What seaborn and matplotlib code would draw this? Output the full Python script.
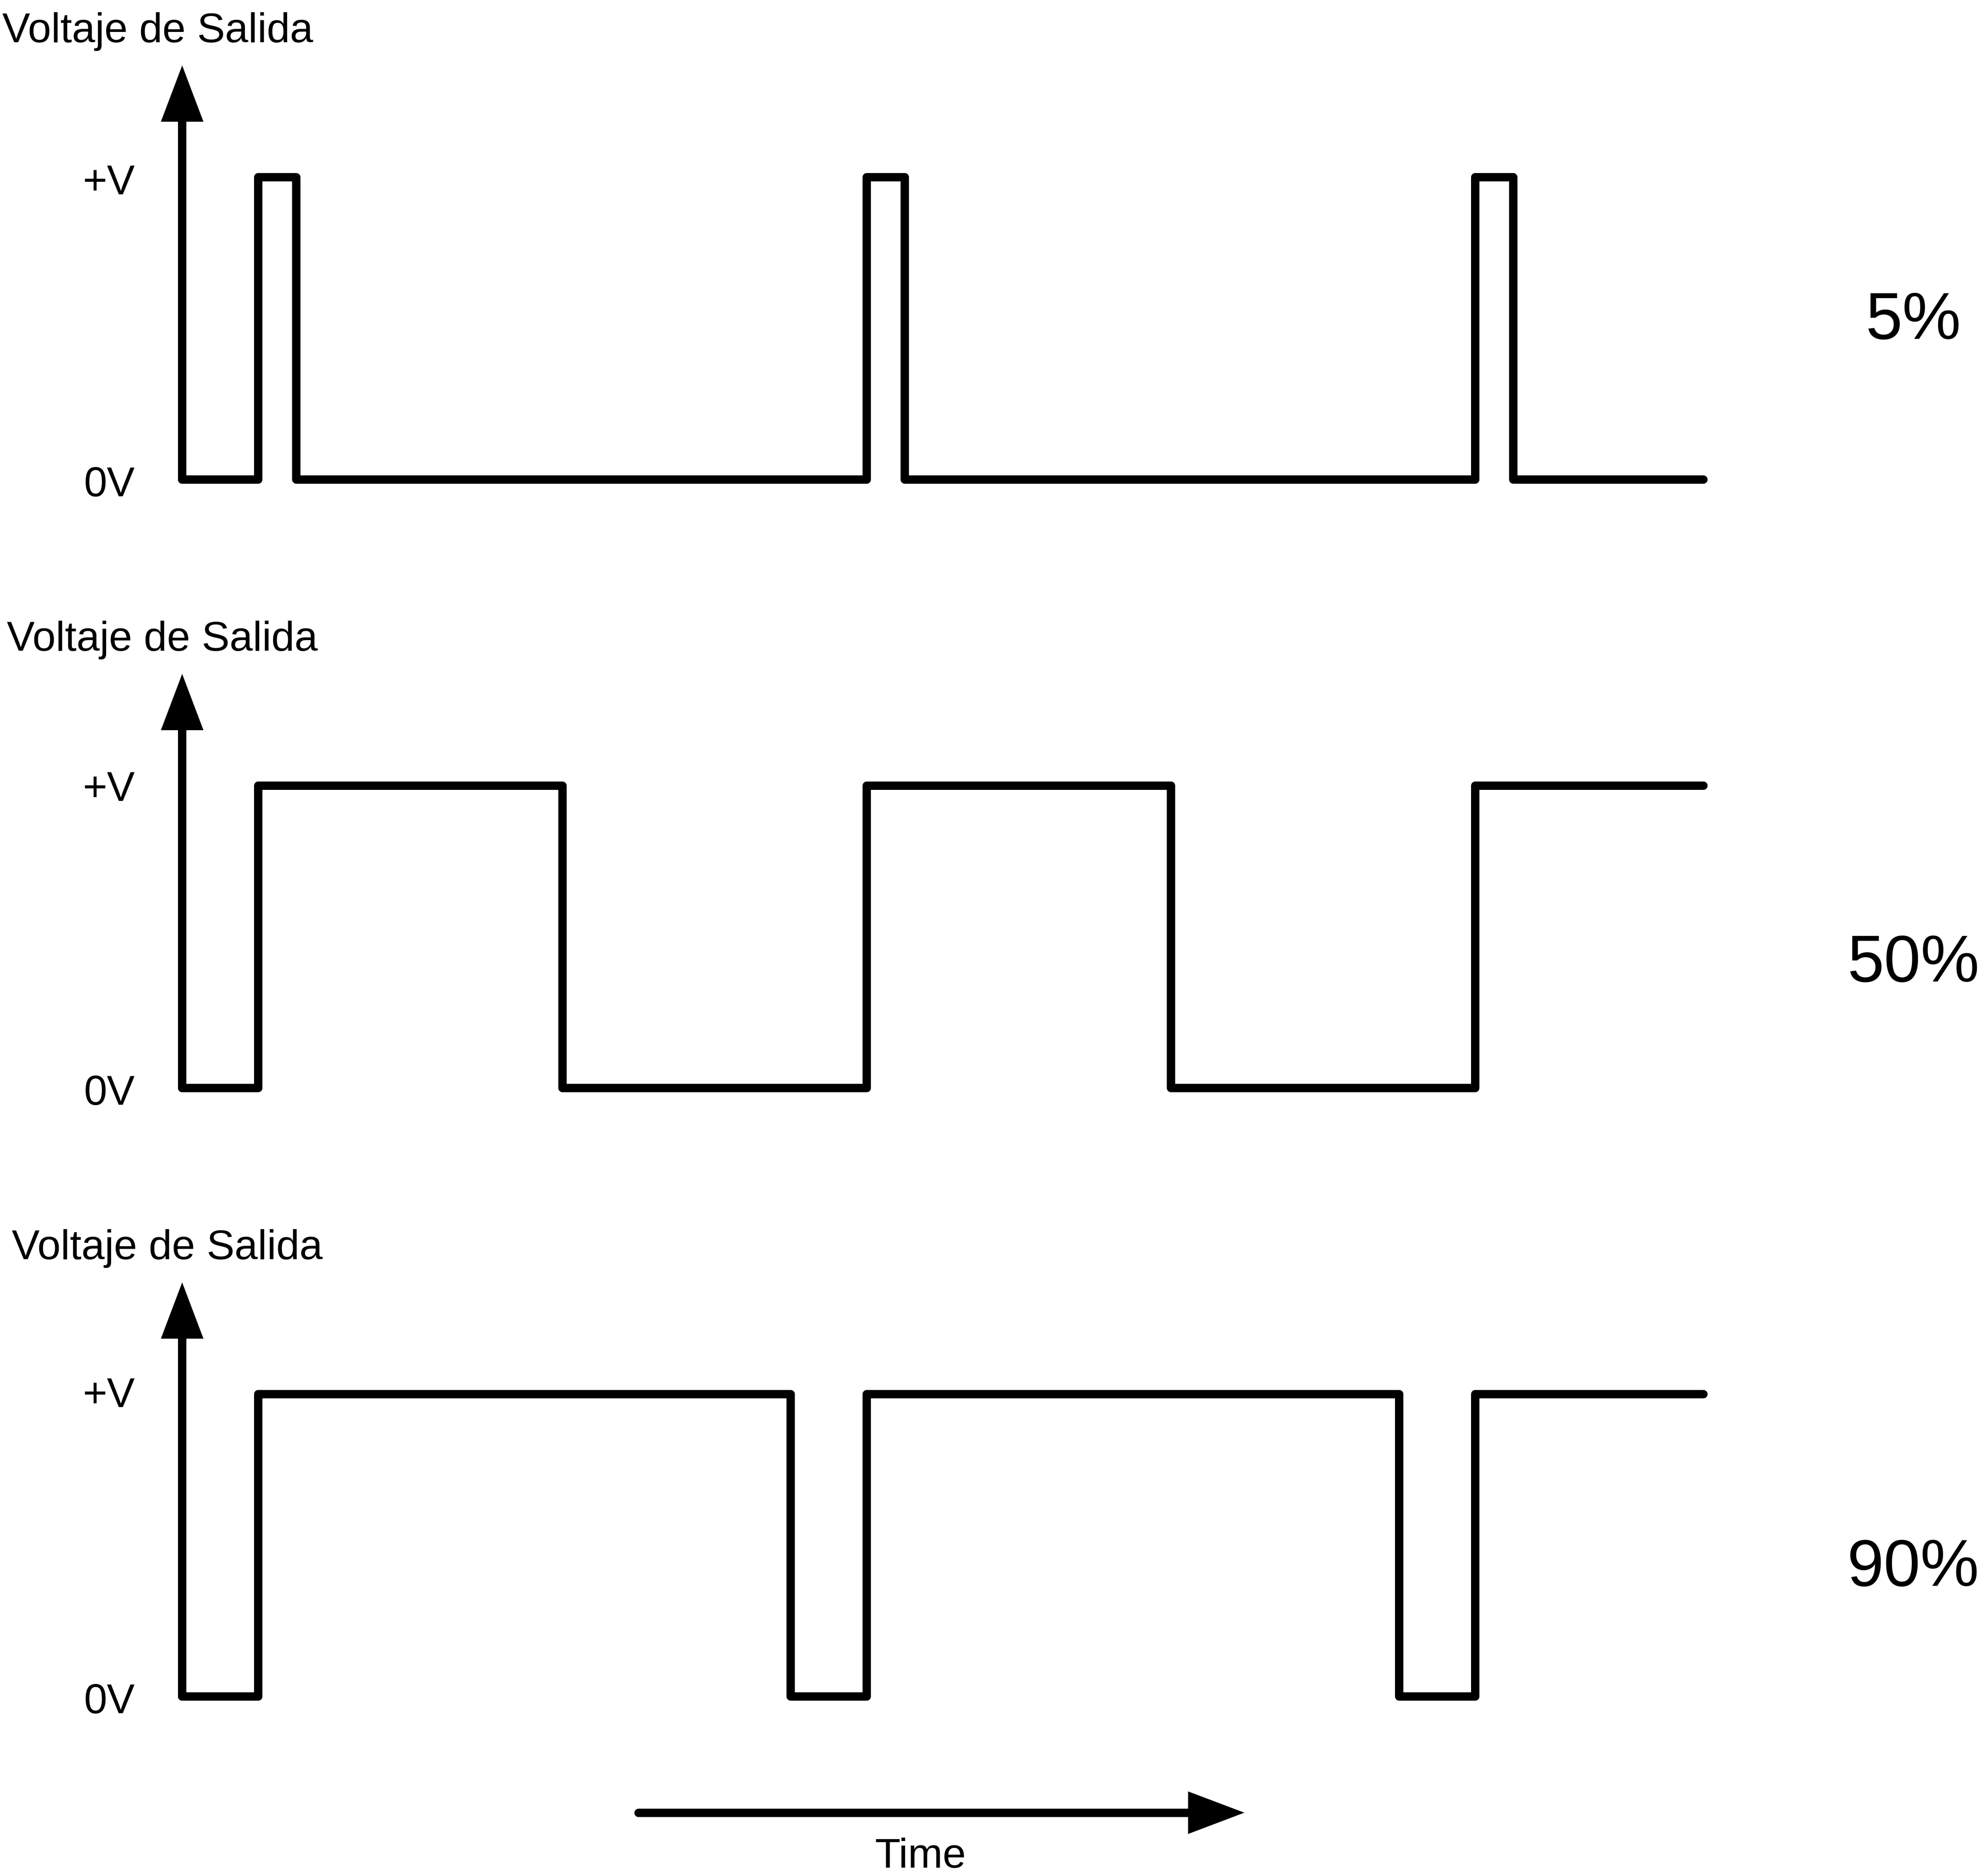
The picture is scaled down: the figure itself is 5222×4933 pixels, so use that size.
import numpy as np
import pandas as pd
import matplotlib
matplotlib.use("Agg")
import matplotlib.pyplot as plt
import seaborn as sns

# ---------------- data ----------------
duty_labels = ["5%", "50%", "90%"]
time_5 = [0, 2, 3, 18, 19, 34, 35, 40]
volt_5 = [0, 1, 0, 1, 0, 1, 0, 0]
time_50 = [0, 2, 10, 18, 26, 34, 40]
volt_50 = [0, 1, 0, 1, 0, 1, 1]
time_90 = [0, 2, 16, 18, 32, 34, 40]
volt_90 = [0, 1, 0, 1, 0, 1, 1]
level_labels = ["+V", "0V"]
level_values = [1, 0]
axis_label = "Voltaje de Salida"
time_label = "Time"

waves = [(time_5, volt_5), (time_50, volt_50), (time_90, volt_90)]

# ---------------- style ----------------
sns.set_theme(style="white")
plt.rcParams["font.family"] = ["Liberation Sans", "DejaVu Sans"]

W, H = 5222, 4933
DPI = 100
fig = plt.figure(figsize=(W / DPI, H / DPI), dpi=DPI)
fig.patch.set_facecolor("white")

LW = 22 * 72 / DPI          # line width in points (22 px)
PX_T = 100.0                # px per time unit
X0 = 479.0                  # px of t = 0
PX_V = 795.0                # px per volt unit
Y0 = 1261.0                 # px (from top) of 0V in first panel
PANEL = 1600.0              # panel pitch in px

xlim = ((0 - X0) / PX_T, (W - X0) / PX_T)
ylim = ((Y0 - PANEL) / PX_V, Y0 / PX_V)

head = dict(arrowstyle="-|>,head_length=1.066,head_width=0.403",
            mutation_scale=100, lw=0, color="black", shrinkA=0, shrinkB=0)

label_left = [-4.726, -4.611, -4.484]
plusv_base = [0.943, 0.95, 0.957]
pct_base = [0.4654, 0.3522, 0.366]

for k, (t, v) in enumerate(waves):
    top = PANEL * k
    ax = fig.add_axes([0, 1 - (top + PANEL) / H, 1, PANEL / H])
    ax.set_xlim(*xlim)
    ax.set_ylim(*ylim)
    ax.set_axis_off()

    df = pd.DataFrame({"t": t, "v": v})
    sns.lineplot(data=df, x="t", y="v", ax=ax, estimator=None, sort=True,
                 drawstyle="steps-post", color="black", lw=LW,
                 solid_joinstyle="round", solid_capstyle="round")

    # vertical axis with arrow head
    ax.plot([0, 0], [0, 1.25], color="black", lw=LW,
            solid_capstyle="round", clip_on=False)
    ax.annotate("", xy=(0, 1.3698), xytext=(0, 1.0), arrowprops=head,
                annotation_clip=False)

    ax.text(label_left[k], 1.4469, axis_label, fontsize=79,
            ha="left", va="baseline", color="black")
    for lab, lv in zip(level_labels, level_values):
        yb = plusv_base[k] if lv == 1 else -0.0553
        ax.text(-1.24, yb, lab, fontsize=79, ha="right", va="baseline",
                color="black")
    ax.text(45.52, pct_base[k], duty_labels[k], fontsize=125,
            ha="center", va="baseline", color="black")

    if k == 2:
        ya = -0.3843
        ax.plot([12, 26.8], [ya, ya], color="black", lw=LW,
                solid_capstyle="round", clip_on=False)
        ax.annotate("", xy=(27.93, ya), xytext=(20, ya), arrowprops=head,
                    annotation_clip=False)
        ax.text(19.41, -0.566, time_label, fontsize=79, ha="center",
                va="baseline", color="black")

fig.savefig("out.png", dpi=DPI, facecolor="white")
